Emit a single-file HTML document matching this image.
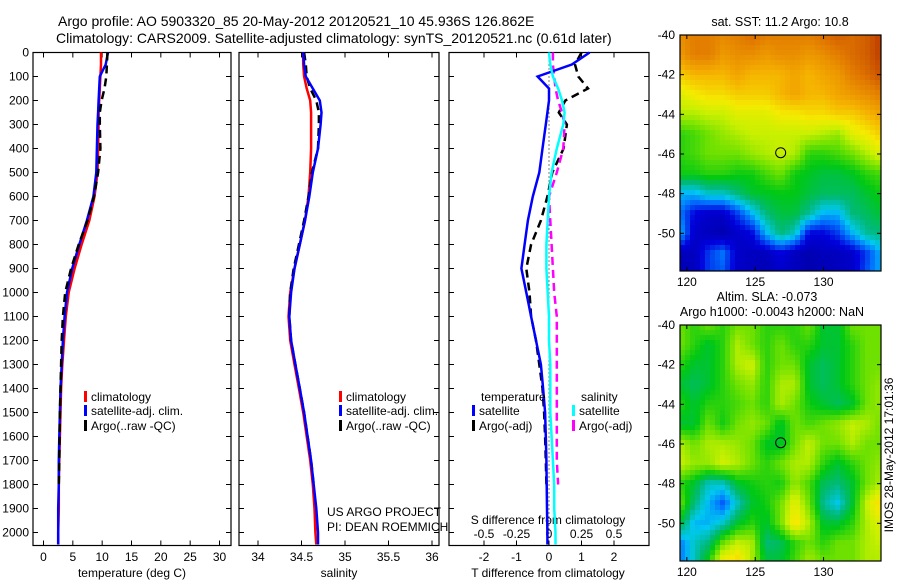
<!DOCTYPE html>
<html><head><meta charset="utf-8">
<style>
html,body{margin:0;padding:0;background:#fff;}
#wrap{position:relative;width:900px;height:580px;overflow:hidden;font-family:"Liberation Sans",sans-serif;}
svg{position:absolute;left:0;top:0;}
canvas{position:absolute;image-rendering:pixelated;}
text{font-family:"Liberation Sans",sans-serif;fill:#000;}
</style></head>
<body>
<div id="wrap">
<canvas id="sstmap" style="left:680px;top:35px;" width="201" height="236"></canvas>
<canvas id="slamap" style="left:680px;top:325px;" width="201" height="236"></canvas>
<svg id="fig" width="900" height="580"></svg>
</div>
<script>
// ---- data ----
const depths = [0,50,100,150,200,250,300,400,500,600,700,800,900,1000,1100,1200,1300,1400,1500,1600,1700,1800,1900,2000,2050];
const tempClim = [9.8,9.8,9.7,9.6,9.5,9.4,9.4,9.3,9.2,8.7,7.8,6.5,5.3,4.3,3.8,3.5,3.2,3.0,2.9,2.8,2.7,2.6,2.6,2.5,2.5];
const tempSat  = [11.0,10.6,9.6,9.5,9.4,9.3,9.2,9.1,9.0,8.5,7.4,6.1,4.9,4.0,3.6,3.3,3.1,2.9,2.8,2.7,2.6,2.6,2.5,2.5,2.5];
const tempArgo = [10.9,10.8,10.7,10.4,9.9,9.6,9.6,9.7,9.3,8.6,7.5,6.0,4.7,3.7,3.3,3.1,3.0,2.9,2.8,2.75,2.7,2.6,null,null,null];
const salClim = [34.52,34.52,34.53,34.56,34.60,34.61,34.61,34.61,34.60,34.58,34.54,34.48,34.42,34.37,34.35,34.37,34.42,34.47,34.52,34.56,34.60,34.63,34.65,34.66,34.67];
const salSat  = [34.52,34.53,34.55,34.63,34.71,34.73,34.72,34.69,34.63,34.59,34.54,34.48,34.42,34.38,34.36,34.38,34.43,34.48,34.53,34.57,34.61,34.64,34.67,34.69,34.69];
const salArgo = [34.53,34.55,34.56,34.60,34.67,34.70,34.70,34.69,34.62,34.58,34.53,34.47,34.41,34.37,34.36,34.38,34.43,34.48,34.53,34.57,34.61,34.64,null,null,null];
const dT_sat  = [1.25,0.7,-0.35,0.0,0.0,-0.05,-0.1,-0.2,-0.3,-0.5,-0.65,-0.75,-0.85,-0.7,-0.55,-0.4,-0.25,-0.18,-0.12,-0.1,-0.08,-0.07,-0.06,-0.05,-0.05];
const dT_argo = [1.0,0.8,0.9,1.2,0.5,0.3,0.55,0.45,0.1,-0.05,-0.25,-0.55,-0.7,-0.6,-0.55,-0.4,-0.3,-0.2,-0.15,-0.12,-0.1,-0.08,null,null,null];
const dS_sat  = [0.0,0.01,0.03,0.07,0.1,0.12,0.11,0.06,0.02,0.0,-0.01,-0.02,-0.02,-0.01,0.0,0.0,0.01,0.01,0.01,0.02,0.03,0.04,0.04,0.05,0.05];
const dS_argo = [0.03,0.03,0.04,0.05,0.07,0.1,0.12,0.11,0.06,0.0,0.01,0.02,0.03,0.04,0.06,0.06,0.06,0.06,0.06,0.06,0.06,0.07,null,null,null];
const depthTicks = [0,100,200,300,400,500,600,700,800,900,1000,1100,1200,1300,1400,1500,1600,1700,1800,1900,2000];
const tempTicks = [0,5,10,15,20,25,30];
const salTicks = [34,34.5,35,35.5,36];
const salTickLabels = ["34","34.5","35","35.5","36"];
const dTTicks = [-2,-1,0,1,2];
const dSTicks = [-0.5,-0.25,0,0.25,0.5];
const dSTickLabels = ["-0.5","-0.25","0","0.25","0.5"];
const latTicks = [-40,-42,-44,-46,-48,-50];
const lonTicks = [120,125,130];
const argoLon = [126.862];
const argoLat = [-45.936];
// SST map grid (normalised colour index 0..1), rows lat -40..-52, cols lon 119.5..134.5
const sstGrid = [
[0.82,0.85,0.85,0.83,0.85,0.88,0.85,0.85,0.85,0.85,0.88,0.9,0.88,0.9,0.95],
[0.8,0.85,0.85,0.8,0.82,0.82,0.8,0.82,0.82,0.8,0.82,0.85,0.88,0.9,0.95],
[0.72,0.75,0.75,0.75,0.78,0.75,0.75,0.75,0.78,0.75,0.78,0.8,0.85,0.88,0.92],
[0.65,0.68,0.7,0.7,0.72,0.72,0.72,0.75,0.78,0.75,0.75,0.78,0.8,0.82,0.85],
[0.6,0.6,0.62,0.62,0.65,0.65,0.65,0.68,0.68,0.7,0.7,0.72,0.72,0.75,0.78],
[0.5,0.52,0.55,0.58,0.6,0.62,0.62,0.62,0.62,0.62,0.6,0.58,0.65,0.68,0.72],
[0.5,0.52,0.55,0.55,0.55,0.58,0.6,0.62,0.6,0.5,0.5,0.52,0.55,0.6,0.65],
[0.48,0.48,0.5,0.5,0.48,0.48,0.52,0.55,0.48,0.46,0.44,0.44,0.46,0.5,0.52],
[0.3,0.3,0.35,0.35,0.4,0.45,0.46,0.47,0.47,0.44,0.42,0.42,0.42,0.45,0.48],
[0.25,0.15,0.12,0.12,0.2,0.3,0.4,0.44,0.44,0.38,0.3,0.3,0.4,0.42,0.45],
[0.3,0.12,0.1,0.08,0.12,0.15,0.3,0.4,0.35,0.15,0.15,0.2,0.3,0.38,0.4],
[0.1,0.1,0.2,0.25,0.12,0.1,0.1,0.15,0.1,0.08,0.1,0.1,0.12,0.2,0.3],
[0.08,0.1,0.2,0.22,0.12,0.1,0.08,0.12,0.1,0.08,0.08,0.1,0.12,0.22,0.3]];
const slaGrid = [
[.55,.5,.55,.5,.55,.55,.5,.5,.5,.55,.45,.45,.55,.55,.55],
[.55,.5,.45,.5,.6,.55,.5,.55,.5,.5,.45,.45,.5,.55,.55],
[.5,.45,.45,.5,.6,.63,.5,.55,.55,.45,.42,.45,.5,.55,.55],
[.45,.42,.45,.5,.55,.58,.5,.6,.6,.45,.42,.45,.5,.55,.58],
[.5,.45,.5,.5,.52,.55,.5,.6,.55,.48,.45,.42,.45,.55,.58],
[.45,.45,.55,.48,.55,.58,.55,.45,.55,.52,.55,.58,.62,.6,.55],
[.6,.55,.6,.6,.58,.55,.46,.45,.55,.62,.55,.55,.6,.55,.55],
[.62,.58,.58,.63,.6,.55,.5,.55,.6,.6,.5,.45,.5,.55,.58],
[.5,.45,.35,.35,.45,.48,.5,.48,.58,.52,.42,.4,.45,.55,.6],
[.55,.4,.3,.22,.35,.45,.48,.55,.66,.55,.38,.32,.45,.62,.72],
[.45,.3,.3,.35,.45,.5,.45,.55,.7,.6,.45,.45,.5,.6,.65],
[.25,.35,.4,.55,.62,.6,.4,.42,.5,.55,.5,.55,.55,.6,.62],
[.25,.35,.5,.7,.72,.6,.45,.45,.52,.6,.55,.55,.55,.6,.6]];

// ---- helpers ----
const NS="http://www.w3.org/2000/svg";
const svg=document.getElementById('fig');
function mk(tag,attrs,parent){const e=document.createElementNS(NS,tag);for(const k in attrs)e.setAttribute(k,attrs[k]);(parent||svg).appendChild(e);return e;}
function txt(x,y,s,size,anchor,name){const t=mk('text',{x:x,y:y,'font-size':size,'text-anchor':anchor||'start'});t.textContent=s;


return t;}
const TOP=52.5, BOT=545.5;
function yD(d){return TOP+d*0.24;}
function lin(d0,d1,p0,p1){return v=>p0+(v-d0)*(p1-p0)/(d1-d0);}
const P1={l:33,r:231}, P2={l:239,r:439}, P3={l:449,r:649};
const xT=lin(0,30,43.5,219.5);
const xS=lin(34,36,258,432);
const xdT=lin(0,2,549,614);
const xdS=v=>xdT(v*4);

function frame(p,name){
 const r=mk('rect',{x:p.l,y:TOP,width:p.r-p.l,height:BOT-TOP,fill:'none',stroke:'#000','stroke-width':1.2});
 
 
 depthTicks.forEach(d=>{const y=yD(d);mk('line',{x1:p.l,x2:p.l+5,y1:y,y2:y,stroke:'#000'});mk('line',{x1:p.r,x2:p.r-5,y1:y,y2:y,stroke:'#000'});});
}
function xticks(ticks,fx,labels,ly,top,bottom){
 ticks.forEach((v,i)=>{const x=fx(v);
  if(bottom)mk('line',{x1:x,x2:x,y1:BOT,y2:BOT-5,stroke:'#000'});
  if(top)mk('line',{x1:x,x2:x,y1:TOP,y2:TOP+5,stroke:'#000'});
  if(labels){txt(x,ly,labels[i],12,'middle','x-tick-label');}
 });
}
function series(vals,fx,color,w,dash,name){
 let d='';let pen=false;
 vals.forEach((v,i)=>{if(v===null){pen=false;return;}d+=(pen?'L':'M')+fx(v).toFixed(1)+' '+yD(depths[i]).toFixed(1)+' ';pen=true;});
 const p=mk('path',{d:d,fill:'none',stroke:color,'stroke-width':w});
 if(dash)p.setAttribute('stroke-dasharray',dash);
 
 
}
function legendRow(x,y,color,label,name){
 mk('rect',{x:x,y:y-10,width:3,height:11,fill:color});
 txt(x+7,y,label,12,'start',name);
}

// titles
txt(58,26,"Argo profile: AO 5903320_85 20-May-2012 20120521_10 45.936S 126.862E",14,'start','title-line-1');
txt(56,43,"Climatology: CARS2009. Satellite-adjusted climatology: synTS_20120521.nc (0.61d later)",14,'start','title-line-2');

// panel 1
frame(P1,'temperature-panel');
depthTicks.forEach(d=>{txt(29,yD(d)+4,String(d),12,'end','depth-tick-label');});
xticks(tempTicks,xT,tempTicks.map(String),561,true,true);
txt(132,577,"temperature (deg C)",12,'middle','temperature-axis-title');
series(tempClim,xT,'#f00',2.5,null,'temp-climatology-line');
series(tempSat,xT,'#00f',2.5,null,'temp-satellite-line');
series(tempArgo,xT,'#000',2.5,'8,5','temp-argo-line');
legendRow(84,401,'#f00','climatology','legend-climatology');
legendRow(84,415,'#00f','satellite-adj. clim.','legend-satellite');
legendRow(84,430,'#000','Argo(..raw -QC)','legend-argo');

// panel 2
frame(P2,'salinity-panel');
xticks(salTicks,xS,salTickLabels,561,true,true);
txt(339,577,"salinity",12,'middle','salinity-axis-title');
series(salClim,xS,'#f00',2.5,null,'sal-climatology-line');
series(salArgo,xS,'#000',2.5,'8,5','sal-argo-line');
series(salSat,xS,'#00f',2.5,null,'sal-satellite-line');
legendRow(339,401,'#f00','climatology','legend2-climatology');
legendRow(339,415,'#00f','satellite-adj. clim.','legend2-satellite');
legendRow(339,430,'#000','Argo(..raw -QC)','legend2-argo');
txt(327,516,"US ARGO PROJECT",12,'start','project-label');
txt(327,531,"PI: DEAN ROEMMICH",12,'start','pi-label');

// panel 3
frame(P3,'difference-panel');
xticks(dTTicks,xdT,dTTicks.map(String),561,false,true);
xticks(dSTicks,xdS,null,0,true,false);
dSTicks.forEach((v,i)=>{txt(xdS(v),538,dSTickLabels[i],12,'middle','s-diff-tick-label');});
txt(548,524,"S difference from climatology",12,'middle','s-diff-axis-title');
txt(548,577,"T difference from climatology",12,'middle','t-diff-axis-title');
mk('line',{x1:xdT(0),x2:xdT(0),y1:TOP,y2:BOT,stroke:'#000','stroke-dasharray':'1,3'});
series(dT_argo,xdT,'#000',2.5,'8,5','dT-argo-line');
series(dS_argo,xdS,'#f0f',2.5,'8,5','dS-argo-line');
series(dT_sat,xdT,'#00f',2.5,null,'dT-satellite-line');
series(dS_sat,xdS,'#0ff',2.5,null,'dS-satellite-line');
txt(481,401,"temperature",12,'start','legend3-temperature-header');
txt(581,401,"salinity",12,'start','legend3-salinity-header');
legendRow(472,415,'#00f','satellite','legend3-t-satellite');
legendRow(472,430,'#000','Argo(-adj)','legend3-t-argo');
legendRow(572,415,'#0ff','satellite','legend3-s-satellite');
legendRow(572,430,'#f0f','Argo(-adj)','legend3-s-argo');

// ---- maps ----
const cmapStops=[[0,[0,0,130]],[0.15,[0,0,220]],[0.25,[0,120,255]],[0.32,[0,200,240]],[0.4,[0,185,120]],[0.47,[0,200,20]],[0.55,[110,225,0]],[0.62,[200,240,0]],[0.68,[245,235,0]],[0.76,[245,175,0]],[0.86,[225,120,0]],[1,[170,30,0]]];
function cmap(v){v=Math.max(0,Math.min(1,v));
 for(let i=1;i<cmapStops.length;i++){const a=cmapStops[i-1],b=cmapStops[i];
  if(v<=b[0]){const t=(v-a[0])/(b[0]-a[0]);return a[1].map((c,k)=>Math.round(c+(b[1][k]-c)*t));}}
 return cmapStops[cmapStops.length-1][1];}
const lonX=lin(119.5,134.2,0,201);
const latY=lin(-40,-51.9,0,236);
function drawMap(id,grid,block){
 const c=document.getElementById(id),ctx=c.getContext('2d');
 const rows=grid.length,cols=grid[0].length;
 for(let y=0;y<236;y+=block)for(let x=0;x<201;x+=block){
  const lon=119.5+(x+block/2)/201*14.7, lat=-40-(y+block/2)/236*11.9;
  let fc=(lon-119.5)/14.7*(cols-1), fr=(-40-lat)/12*(rows-1);
  const c0=Math.floor(fc),r0=Math.floor(fr),c1=Math.min(cols-1,c0+1),r1=Math.min(rows-1,r0+1),tx=fc-c0,ty=fr-r0;
  const v=grid[r0][c0]*(1-tx)*(1-ty)+grid[r0][c1]*tx*(1-ty)+grid[r1][c0]*(1-tx)*ty+grid[r1][c1]*tx*ty;
  const [r,g,b]=cmap(v);ctx.fillStyle='rgb('+r+','+g+','+b+')';ctx.fillRect(x,y,block,block);
 }
}
drawMap('sstmap',sstGrid,5);
drawMap('slamap',slaGrid,5);
function mapFrame(top,name){
 const L=680,R=881,H=236;
 const r=mk('rect',{x:L,y:top,width:R-L,height:H,fill:'none',stroke:'#000','stroke-width':1.2});
 
 
 latTicks.forEach(la=>{const y=top+latY(la);mk('line',{x1:L,x2:L+4,y1:y,y2:y,stroke:'#000'});mk('line',{x1:R,x2:R-4,y1:y,y2:y,stroke:'#000'});txt(L-5,y+4,String(la),12,'end','lat-tick-label');});
 lonTicks.forEach(lo=>{const x=L+lonX(lo);mk('line',{x1:x,x2:x,y1:top+H,y2:top+H-4,stroke:'#000'});mk('line',{x1:x,x2:x,y1:top,y2:top+4,stroke:'#000'});txt(x,top+H+15,String(lo),12,'middle','lon-tick-label');});
 argoLon.forEach((lo,i)=>{const c=mk('circle',{cx:L+lonX(lo),cy:top+latY(argoLat[i]),r:5,fill:'none',stroke:'#000','stroke-width':1});
 
 });
}
mapFrame(35,'sst-map-frame');
mapFrame(325,'sla-map-frame');
txt(780,26,"sat. SST: 11.2 Argo: 10.8",12.5,'middle','sst-map-title');
txt(767,301,"Altim. SLA: -0.073",12.5,'middle','sla-map-title');
txt(772,316,"Argo h1000: -0.0043 h2000: NaN",12.5,'middle','sla-map-subtitle');
const side=txt(0,0,"IMOS 28-May-2012 17:01:36",12,'middle','timestamp-label');
side.setAttribute('transform','translate(893,455) rotate(-90)');
</script>
</body></html>
